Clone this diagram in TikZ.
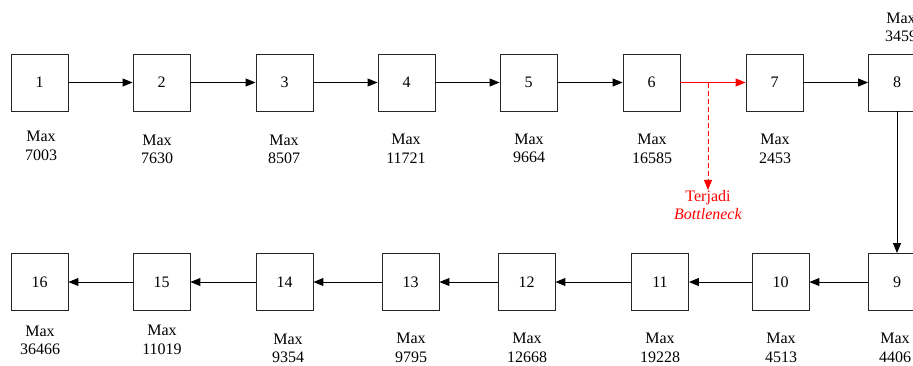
\documentclass[tikz,border=0pt]{standalone}
\usepackage{fontspec}
\setmainfont{Liberation Serif}
\usetikzlibrary{arrows.meta}

\tikzset{
  box/.style={draw=black!85,line width=0.9pt,minimum size=57pt,inner sep=0pt,font=\fontsize{16}{18}\selectfont},
  info/.style={align=center,inner sep=0pt,font=\fontsize{16}{18.5}\selectfont},
  link/.style={line width=1pt,-{Triangle[length=10pt,width=8pt]}}
}

\begin{document}
\begin{tikzpicture}[x=1pt,y=-1pt]
\useasboundingbox (0,0) rectangle (913,365);

% Draw the upper row of boxes
\node[box] (b1) at (39.5,82.5) {1};
\node[box] (b2) at (161.5,82.5) {2};
\node[box] (b3) at (284.5,82.5) {3};
\node[box] (b4) at (406.5,82.5) {4};
\node[box] (b5) at (528.5,82.5) {5};
\node[box] (b6) at (651.5,82.5) {6};
\node[box] (b7) at (774.5,82.5) {7};
\node[box] (b8) at (897,82.5) {8};
% Draw the lower row of boxes
\node[box] (b9) at (897,282) {9};
\node[box] (b10) at (780.5,282) {10};
\node[box] (b11) at (660,282) {11};
\node[box] (b12) at (526.5,282) {12};
\node[box] (b13) at (410.5,282) {13};
\node[box] (b14) at (284.5,282) {14};
\node[box] (b15) at (161.5,282) {15};
\node[box] (b16) at (39.5,282) {16};

% Maximum values
\node[info] (m1) at (41,146) {Max\\7003};
\node[info] (m2) at (157,149.5) {Max\\7630};
\node[info] (m3) at (284,149.5) {Max\\8507};
\node[info] (m4) at (406,149) {Max\\11721};
\node[info] (m5) at (529,148.5) {Max\\9664};
\node[info] (m6) at (652,149) {Max\\16585};
\node[info] (m7) at (775,149) {Max\\2453};
\node[info] (m8) at (901,27.5) {Max\\3459};
\node[info] (m9) at (895,348) {Max\\4406};
\node[info] (m10) at (781,348) {Max\\4513};
\node[info] (m11) at (660,348) {Max\\19228};
\node[info] (m12) at (527,348) {Max\\12668};
\node[info] (m13) at (411,348) {Max\\9795};
\node[info] (m14) at (288,348.5) {Max\\9354};
\node[info] (m15) at (162,340) {Max\\11019};
\node[info] (m16) at (40,340.5) {Max\\36466};

% Arrows along the upper row
\draw[link] (b1) -- (b2);
\draw[link] (b2) -- (b3);
\draw[link] (b3) -- (b4);
\draw[link] (b4) -- (b5);
\draw[link] (b5) -- (b6);
\draw[link,red] (b6) -- (b7);
\draw[link] (b7) -- (b8);
% Down to the lower row
\draw[link] (b8) -- (b9);
% Arrows along the lower row
\draw[link] (b9) -- (b10);
\draw[link] (b10) -- (b11);
\draw[link] (b11) -- (b12);
\draw[link] (b12) -- (b13);
\draw[link] (b13) -- (b14);
\draw[link] (b14) -- (b15);
\draw[link] (b15) -- (b16);

% The bottleneck
\coordinate (split) at (708,82.5);
\node[info,text=red] (neck) at (708,205) {Terjadi\\\textit{Bottleneck}};
\draw[link,red,dash pattern=on 5pt off 3pt] (split) -- (neck.north);

\end{tikzpicture}
\end{document}
